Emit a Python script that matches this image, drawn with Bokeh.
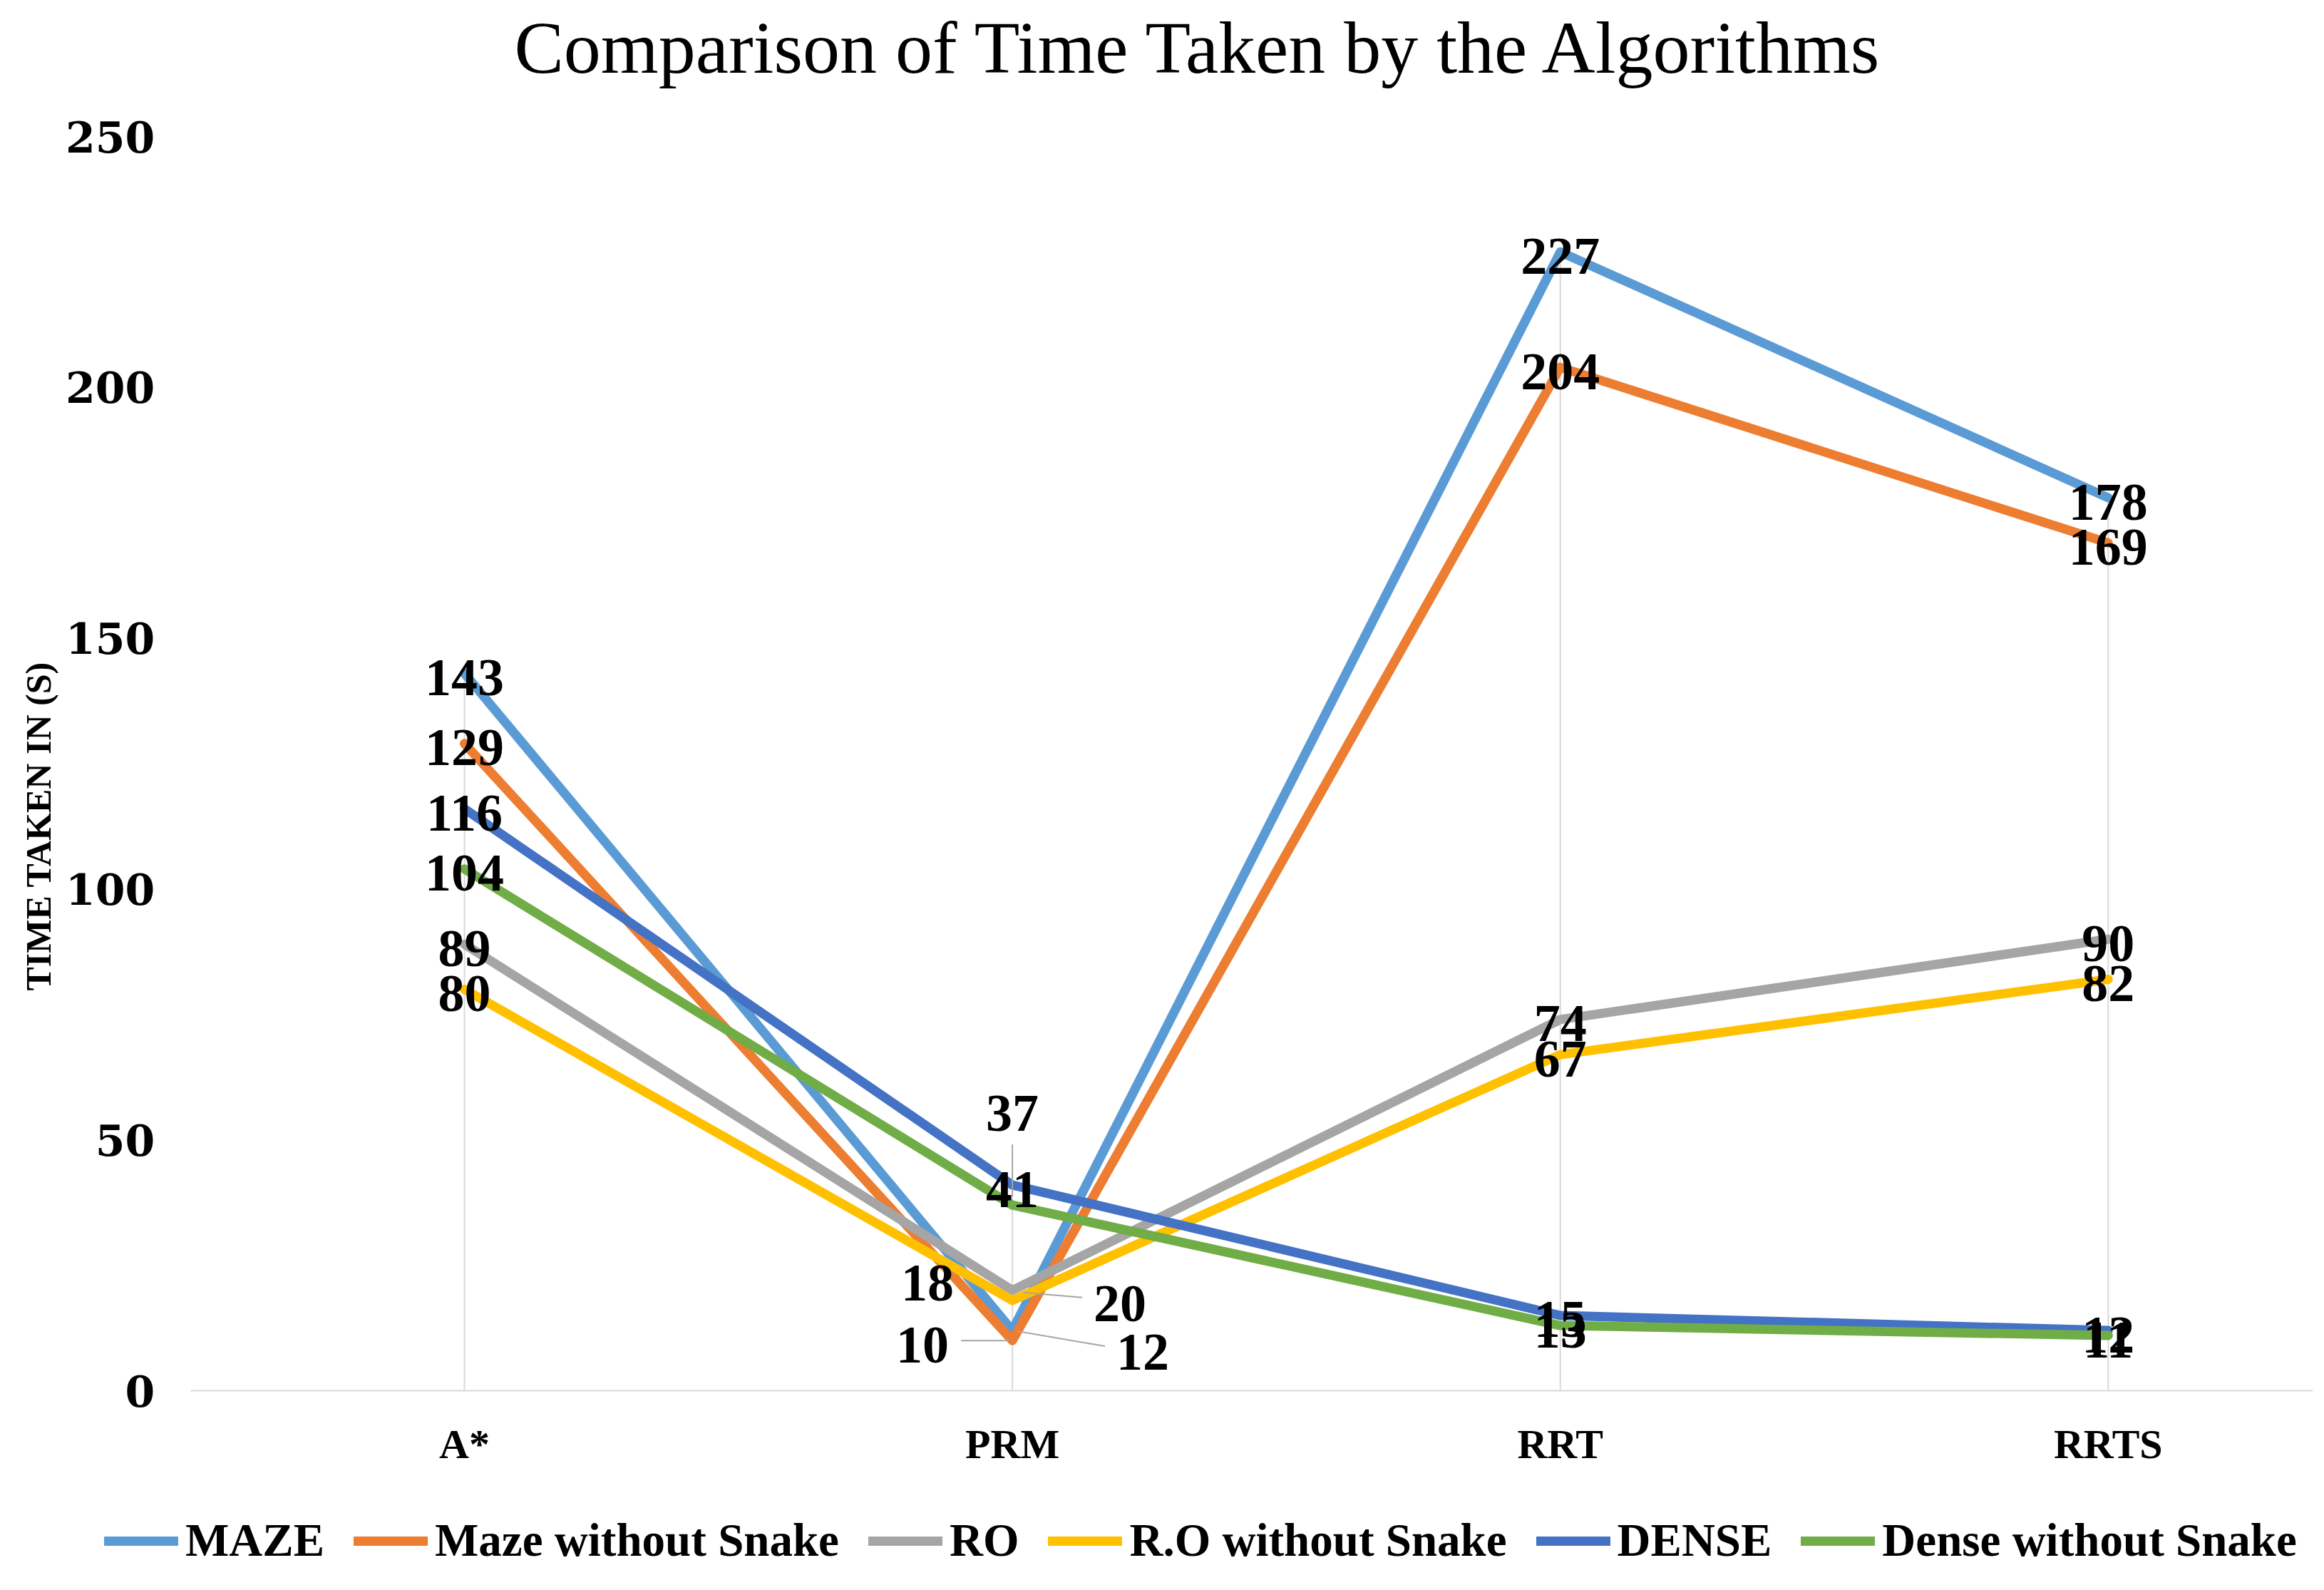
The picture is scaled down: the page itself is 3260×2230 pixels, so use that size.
import math
from bokeh.plotting import figure
from bokeh.models import ColumnDataSource, Legend, LegendItem, FixedTicker, Range1d, Label
from bokeh.embed import file_html
from bokeh.resources import INLINE
from bokeh.core.properties import value

# ---------------- data ----------------
categories = ["A*", "PRM", "RRT", "RRTS"]
maze = [143, 12, 227, 178]
maze_without_snake = [129, 10, 204, 169]
ro = [89, 20, 74, 90]
ro_without_snake = [80, 18, 67, 82]
dense = [116, 41, 15, 12]
dense_without_snake = [104, 37, 13, 11]
series_names = ["MAZE", "Maze without Snake", "RO", "R.O without Snake", "DENSE", "Dense without Snake"]
y_ticks = [0, 50, 100, 150, 200, 250]
title_text = "Comparison of Time Taken by the Algorithms"
y_title = "TIME TAKEN IN  (S)"

series_values = [maze, maze_without_snake, ro, ro_without_snake, dense, dense_without_snake]
colors = ["#5B9BD5", "#ED7D31", "#A5A5A5", "#FFC000", "#4472C4", "#70AD47"]

# label placement tweaks (screen px) for crowded PRM labels: (series idx, cat idx) -> (dx, dy)
label_offsets = {(0, 1): (183, 24), (1, 1): (-126, 0), (2, 1): (151, 13),
                 (3, 1): (-119, -30), (5, 1): (0, -135)}
# leader lines (screen px offsets from the point): start and end
leaders = {(0, 1): ((7, 1), (130, 22)), (1, 1): ((-72, 0), (-5, 0)),
           (2, 1): ((15, 3), (98, 10)), (5, 1): ((0, -85), (0, -12))}

# ---------------- geometry (pixels) ----------------
W, H = 3244, 2214
px_x = 768.6                      # pixels per category step
px_y = 1759 / 250                 # pixels per second
cat0_px = 651                     # pixel column of the first category
zero_px, top_px = 1950, 191       # pixel rows of value 0 and 250
x_lo = -cat0_px / px_x
x_hi = (W - cat0_px) / px_x
y_hi = 250 + top_px / px_y
y_lo = -(H - zero_px) / px_y
axis_x = -0.5                      # value axis sits half a category left of A*


def sx(px):
    return x_lo + px / px_x


def sy(py):
    return y_hi - py / px_y


p = figure(width=W, height=H, output_backend="svg", toolbar_location=None,
           x_range=Range1d(x_lo, x_hi), y_range=Range1d(y_lo, y_hi),
           min_border_left=0, min_border_right=0, min_border_top=0, min_border_bottom=0)
p.outline_line_color = None
p.xgrid.grid_line_color = None
p.ygrid.grid_line_color = None

xs = list(range(len(categories)))

# drop lines
max_vals = [max(s[i] for s in series_values) for i in xs]
p.segment(x0=xs, y0=[0] * len(xs), x1=xs, y1=max_vals, line_color="#d9d9d9", line_width=2)

items = []
for name, vals, col in zip(series_names, series_values, colors):
    r = p.line(xs, vals, line_color=col, line_width=13, line_cap="round", line_join="round")
    items.append(LegendItem(label=name, renderers=[r]))

# leader lines
lx0, ly0, lx1, ly1 = [], [], [], []
for (si, ci), ((sx0, sy0), (sx1, sy1)) in leaders.items():
    v = series_values[si][ci]
    lx0.append(ci + sx0 / px_x); ly0.append(v - sy0 / px_y)
    lx1.append(ci + sx1 / px_x); ly1.append(v - sy1 / px_y)
p.segment(x0=lx0, y0=ly0, x1=lx1, y1=ly1, line_color="#a6a6a6", line_width=2)

# data labels
tx, ty, tt, tdx, tdy = [], [], [], [], []
for si, vals in enumerate(series_values):
    for ci, v in enumerate(vals):
        dx, dy = label_offsets.get((si, ci), (0, 0))
        tx.append(ci); ty.append(v); tt.append(str(v)); tdx.append(dx); tdy.append(dy + 6)
src = ColumnDataSource(dict(x=tx, y=ty, t=tt, dx=tdx, dy=tdy))
p.text(x="x", y="y", text="t", x_offset="dx", y_offset="dy", source=src,
       text_font=value("Liberation Serif"), text_font_style="bold", text_font_size="74px",
       text_color="black", text_align="center", text_baseline="middle")

# category axis at value 0
p.xaxis.fixed_location = 0
p.xaxis.bounds = (axis_x, x_hi)
p.xaxis.ticker = FixedTicker(ticks=xs)
p.xaxis.major_label_overrides = {i: c for i, c in enumerate(categories)}
p.xaxis.axis_line_color = "#d9d9d9"
p.xaxis.axis_line_width = 2
p.xaxis.major_tick_line_color = None
p.xaxis.minor_tick_line_color = None
p.xaxis.major_label_text_font = "Liberation Serif"
p.xaxis.major_label_text_font_style = "bold"
p.xaxis.major_label_text_font_size = "58px"
p.xaxis.major_label_standoff = 36
p.xaxis.major_label_text_color = "black"

# value axis
p.yaxis.fixed_location = axis_x
p.yaxis.bounds = (0, 250)
p.yaxis.ticker = FixedTicker(ticks=y_ticks)
p.yaxis.axis_line_color = None
p.yaxis.major_tick_line_color = None
p.yaxis.minor_tick_line_color = None
p.yaxis.major_label_text_font = "DejaVu Serif"
p.yaxis.major_label_text_font_style = "bold"
p.yaxis.major_label_text_font_size = "60px"
p.yaxis.major_label_standoff = 44
p.yaxis.major_label_text_color = "black"

# value axis title
p.add_layout(Label(x=sx(53), y=sy(1152), text=y_title, angle=math.pi / 2,
                   text_align="center", text_baseline="middle",
                   text_font="Liberation Serif", text_font_style="bold",
                   text_font_size="50px", text_color="black"))

# chart title
p.add_layout(Label(x=sx(721), y=sy(66), text=title_text, text_align="left",
                   text_baseline="alphabetic", text_font="Liberation Serif",
                   text_font_size="104px", text_color="black"))

legend = Legend(items=items, orientation="horizontal", location=(146, 16),
                label_text_font="Liberation Serif", label_text_font_style="bold",
                label_text_font_size="65px", label_text_color="black",
                glyph_width=104, glyph_height=60,
                label_standoff=10, spacing=41, padding=0, margin=0,
                border_line_color=None, background_fill_alpha=0)
p.add_layout(legend, "center")

open("out.html", "w").write(file_html(p, INLINE))
